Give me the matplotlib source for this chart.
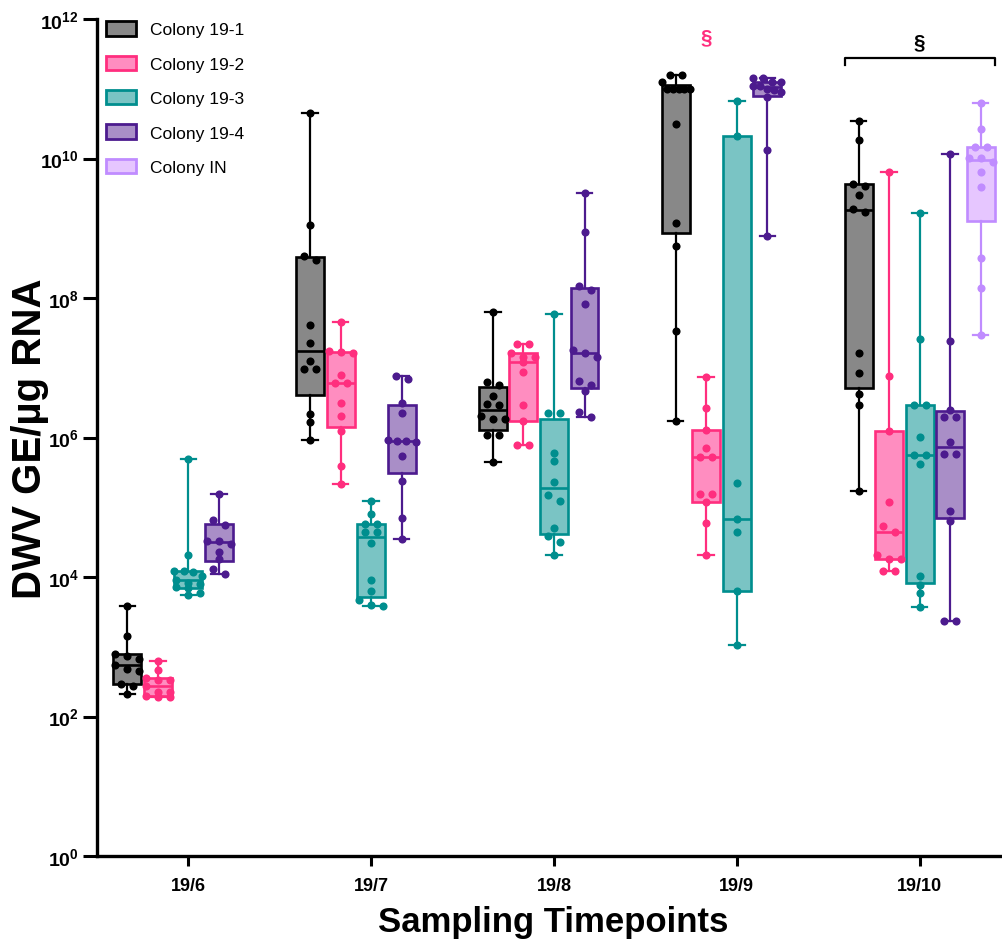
import numpy as np
import matplotlib.pyplot as plt
from matplotlib.patches import Patch
from matplotlib.ticker import FixedLocator, NullLocator, FuncFormatter

plt.rcParams["font.family"] = ["Liberation Sans", "DejaVu Sans"]
plt.rcParams["mathtext.fontset"] = "custom"
plt.rcParams["mathtext.rm"] = "Liberation Sans"
plt.rcParams["mathtext.bf"] = "Liberation Sans:bold"

TIMEPOINTS = ["19/6", "19/7", "19/8", "19/9", "19/10"]
COLONIES = ["Colony 19-1", "Colony 19-2", "Colony 19-3", "Colony 19-4", "Colony IN"]

# log10(DWV genome equivalents / µg RNA) per bee sample, one list per timepoint
LOG_19_1 = [
    [3.58, 3.16, 2.89, 2.87, 2.82, 2.74, 2.68, 2.65, 2.46, 2.44, 2.32],
    [10.65, 9.04, 8.60, 8.54, 7.61, 7.35, 7.10, 6.98, 6.98, 6.34, 6.22, 5.96],
    [7.80, 6.79, 6.75, 6.60, 6.48, 6.46, 6.31, 6.27, 6.27, 6.04, 6.03, 5.65],
    [11.19, 11.19, 11.09, 11.00, 11.00, 11.00, 11.00, 11.00, 10.49, 9.07, 8.75, 7.53, 6.24],
    [10.54, 10.27, 9.64, 9.60, 9.48, 9.28, 9.23, 7.21, 6.92, 6.62, 6.46, 5.24],
]
LOG_19_2 = [
    [2.79, 2.66, 2.55, 2.53, 2.53, 2.44, 2.35, 2.35, 2.29, 2.28, 2.28],
    [7.65, 7.24, 7.23, 7.21, 6.90, 6.78, 6.78, 6.50, 6.31, 6.09, 5.59, 5.34],
    [7.34, 7.34, 7.21, 7.15, 7.15, 7.08, 6.94, 6.46, 6.24, 5.89, 5.89],
    [6.87, 6.42, 6.11, 5.85, 5.72, 5.72, 5.19, 5.19, 5.08, 4.78, 4.32],
    [9.80, 6.88, 6.10, 5.08, 4.73, 4.64, 4.32, 4.26, 4.26, 4.09, 4.09],
]
LOG_19_3 = [
    [5.69, 4.32, 4.08, 4.08, 4.07, 4.01, 3.96, 3.92, 3.90, 3.85, 3.84, 3.77, 3.74],
    [5.09, 4.90, 4.76, 4.76, 4.65, 4.65, 4.49, 3.95, 3.80, 3.67, 3.60, 3.58],
    [7.77, 6.35, 6.35, 5.78, 5.67, 5.36, 5.18, 5.09, 4.70, 4.59, 4.50, 4.32],
    [10.83, 10.32, 5.35, 4.83, 4.65, 3.80, 3.02],
    [9.22, 7.41, 6.46, 6.46, 6.01, 5.75, 5.75, 5.62, 4.01, 3.88, 3.77, 3.57],
]
LOG_19_4 = [
    [5.19, 4.82, 4.74, 4.51, 4.51, 4.48, 4.36, 4.26, 4.11, 4.04],
    [6.88, 6.84, 6.50, 6.35, 5.96, 5.95, 5.95, 5.94, 5.73, 5.37, 4.85, 4.54],
    [9.51, 8.94, 8.17, 8.12, 7.92, 7.25, 7.21, 7.16, 6.81, 6.75, 6.66, 6.36, 6.30],
    [11.15, 11.15, 11.10, 11.10, 11.04, 11.04, 11.00, 10.98, 10.95, 10.88, 10.12, 8.89],
    [10.07, 7.38, 6.40, 6.29, 6.29, 5.94, 5.77, 5.77, 4.95, 4.80, 3.37, 3.37],
]
LOG_IN = [
    None, None, None, None,
    [10.80, 10.42, 10.16, 10.16, 10.01, 10.01, 9.95, 9.81, 9.59, 8.57, 8.14, 7.47],
]

EDGE = ["#000000", "#FF2E7E", "#008E8E", "#4C1B8E", "#C08CFF"]
FACE = ["#888888", "#FF8DC0", "#7AC4C4", "#A98EC7", "#E6C6FF"]

SLOT = 0.167      # spacing between colonies inside a timepoint
BOX_W = 0.153
CAP_W = 0.085

X_PX = 182.75     # pixels per category unit
Y_PX = 69.75      # pixels per decade


def swarm_offsets(logs, row_px=6.5, step_px=12.0, half_px=14.0):
    # group near-equal values into rows, spread each row symmetrically,
    # squeezing wide rows so they stay inside the box
    logs = np.asarray(logs)
    order = np.argsort(logs)[::-1]
    offsets = np.zeros(len(logs))
    rows, current = [], []
    for idx in order:
        if current and (logs[current[0]] - logs[idx]) * Y_PX > row_px:
            rows.append(current)
            current = []
        current.append(idx)
    rows.append(current)
    for row in rows:
        n = len(row)
        step = step_px if n < 2 else min(step_px, 2 * half_px / (n - 1))
        for k, idx in enumerate(row):
            offsets[idx] = (k - (n - 1) / 2) * step / X_PX
    return offsets


fig = plt.figure(figsize=(10.02, 9.45), dpi=100)
ax = fig.add_axes([97 / 1002, 88 / 945, 903 / 1002, 837 / 945])

series = [LOG_19_1, LOG_19_2, LOG_19_3, LOG_19_4, LOG_IN]
for c, per_time in enumerate(series):
    for t, logs in enumerate(per_time):
        if logs is None:
            continue
        vals = np.power(10.0, logs)
        q1, med, q3 = np.percentile(vals, [25, 50, 75], method="weibull")
        pos = t + (c - 2) * SLOT
        stats = [dict(med=med, q1=q1, q3=q3, whislo=vals.min(), whishi=vals.max(), fliers=[])]
        ax.bxp(stats, positions=[pos], widths=BOX_W, capwidths=CAP_W,
               patch_artist=True, showfliers=False, manage_ticks=False,
               boxprops=dict(facecolor=FACE[c], edgecolor=EDGE[c], linewidth=1.9),
               medianprops=dict(color=EDGE[c], linewidth=1.9),
               whiskerprops=dict(color=EDGE[c], linewidth=1.6),
               capprops=dict(color=EDGE[c], linewidth=1.6))
        xs = pos + swarm_offsets(logs)
        ax.scatter(xs, vals, s=34, color=EDGE[c], linewidths=0, zorder=4)

ax.set_yscale("log")
ax.set_ylim(1, 1e12)
ax.set_xlim(-0.5, 4.44)
ax.yaxis.set_major_locator(FixedLocator([10.0 ** k for k in range(0, 13, 2)]))
ax.yaxis.set_minor_locator(NullLocator())
ax.yaxis.set_major_formatter(FuncFormatter(
    lambda v, pos: r"$\mathbf{10^{%d}}$" % int(round(np.log10(v)))))
ax.set_xticks(range(len(TIMEPOINTS)))
ax.set_xticklabels(TIMEPOINTS, fontsize=13, fontweight="bold")
ax.tick_params(axis="y", labelsize=14, length=10, width=2.2, pad=3)
ax.tick_params(axis="x", length=7, width=2.2, pad=8)

for side in ["top", "right"]:
    ax.spines[side].set_visible(False)
for side in ["left", "bottom"]:
    ax.spines[side].set_linewidth(2.4)

ax.set_ylabel("DWV GE/µg RNA", fontsize=29, fontweight="bold")
ax.yaxis.set_label_coords(-0.053, 0.5)
ax.set_xlabel("Sampling Timepoints", fontsize=25, fontweight="bold")
ax.xaxis.set_label_coords(0.505, -0.058)

# significance marks
ax.text(3 - SLOT, 10 ** 11.74, "§", color=EDGE[1], fontsize=15, fontweight="bold",
        ha="center", va="center")
left = 4 - 2 * SLOT - BOX_W / 2
right = 4 + 2 * SLOT + BOX_W / 2
ax.plot([left, left, right, right], [10 ** 11.34, 10 ** 11.44, 10 ** 11.44, 10 ** 11.34],
        color="black", linewidth=1.6, clip_on=False)
ax.text(4, 10 ** 11.67, "§", color="black", fontsize=15, fontweight="bold",
        ha="center", va="center")

handles = [Patch(facecolor=FACE[i], edgecolor=EDGE[i], linewidth=2, label=COLONIES[i])
           for i in range(len(COLONIES))]
ax.legend(handles=handles, loc="upper left", bbox_to_anchor=(-0.003, 1.012), frameon=False,
          fontsize=12.5, handlelength=1.7, handleheight=0.9, labelspacing=1.05,
          handletextpad=0.8, borderaxespad=0.3)

fig.savefig("out.png", dpi=100)
